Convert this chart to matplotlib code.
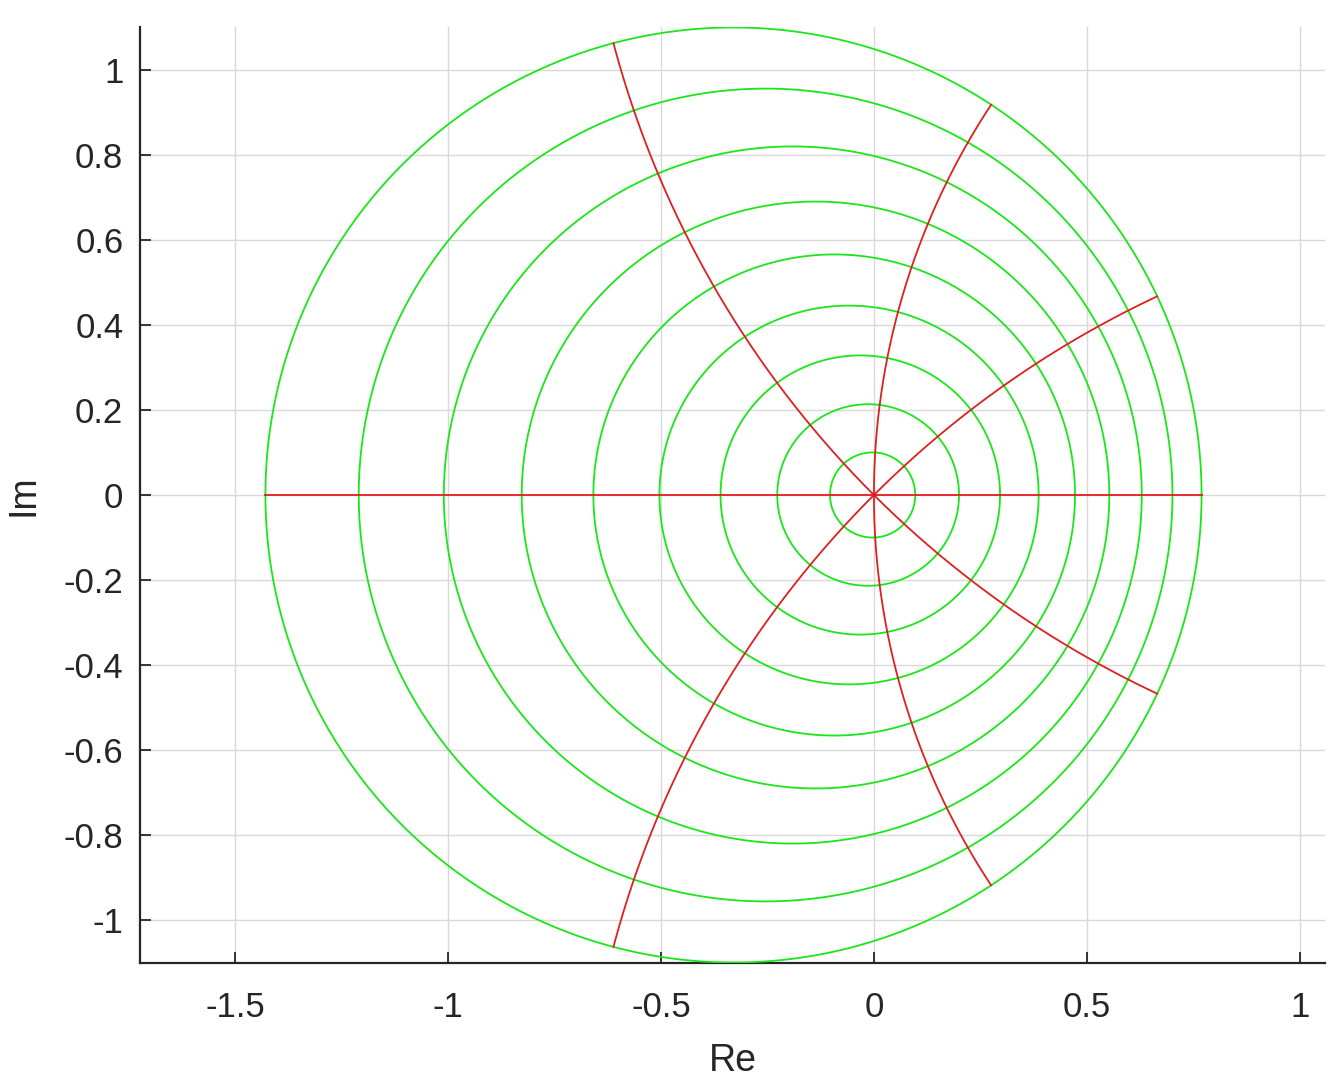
import numpy as np
import matplotlib
matplotlib.use("Agg")
import matplotlib.pyplot as plt

# Data: Moebius map w = z / (1 + a z) applied to a polar grid
a_coef = 0.3
radii = [0.1, 0.2125, 0.325, 0.4375, 0.55, 0.6625, 0.775, 0.8875, 1.0]
ray_angles_deg = [0, 45, 90, 135, 180, 225, 270, 315]
ray_length = 1.0
xticks = [-1.5, -1, -0.5, 0, 0.5, 1]
xticklabels = ["-1.5", "-1", "-0.5", "0", "0.5", "1"]
yticks = [-1, -0.8, -0.6, -0.4, -0.2, 0, 0.2, 0.4, 0.6, 0.8, 1]
yticklabels = ["-1", "-0.8", "-0.6", "-0.4", "-0.2", "0", "0.2", "0.4", "0.6", "0.8", "1"]

plt.rcParams['font.family'] = ['Liberation Sans', 'DejaVu Sans']

def fmap(z):
    return z / (1 + a_coef * z)

fig = plt.figure(figsize=(13.39, 10.82), dpi=100)
ax = fig.add_axes([140/1339, 1 - 963/1082, (1325-140)/1339, (963-27)/1082])

t = np.linspace(0, 2*np.pi, 721)
for r in radii:
    w = fmap(r * np.exp(1j * t))
    ax.plot(w.real, w.imag, color=(0.1, 0.9, 0.1), lw=1.3, zorder=3)

s = np.linspace(0, ray_length, 300)
for ang in ray_angles_deg:
    w = fmap(s * np.exp(1j * np.deg2rad(ang)))
    ax.plot(w.real, w.imag, color=(0.88, 0.12, 0.12), lw=1.3, zorder=4)

ax.set_xlim(-1.723, 1.059)
ax.set_ylim(-1.1, 1.1)
ax.set_xticks(xticks)
ax.set_xticklabels(xticklabels)
ax.set_yticks(yticks)
ax.set_yticklabels(yticklabels)
ax.grid(True, color=(0.85, 0.85, 0.85), lw=1.0, zorder=0)
ax.set_axisbelow(True)
for sp in ['top', 'right']:
    ax.spines[sp].set_visible(False)
for sp in ['left', 'bottom']:
    ax.spines[sp].set_color((0.15, 0.15, 0.15))
    ax.spines[sp].set_linewidth(1.6)
ax.tick_params(direction='in', length=8, width=1.3, colors=(0.15, 0.15, 0.15),
               labelsize=25, labelcolor=(0.15, 0.15, 0.15))
ax.tick_params(axis='x', pad=20)
ax.tick_params(axis='y', pad=12)
ax.set_xlabel("Re", fontsize=27, color=(0.15, 0.15, 0.15), labelpad=14)
ax.set_ylabel("Im", fontsize=27, color=(0.15, 0.15, 0.15), labelpad=16)

fig.savefig("out.png", dpi=100)
